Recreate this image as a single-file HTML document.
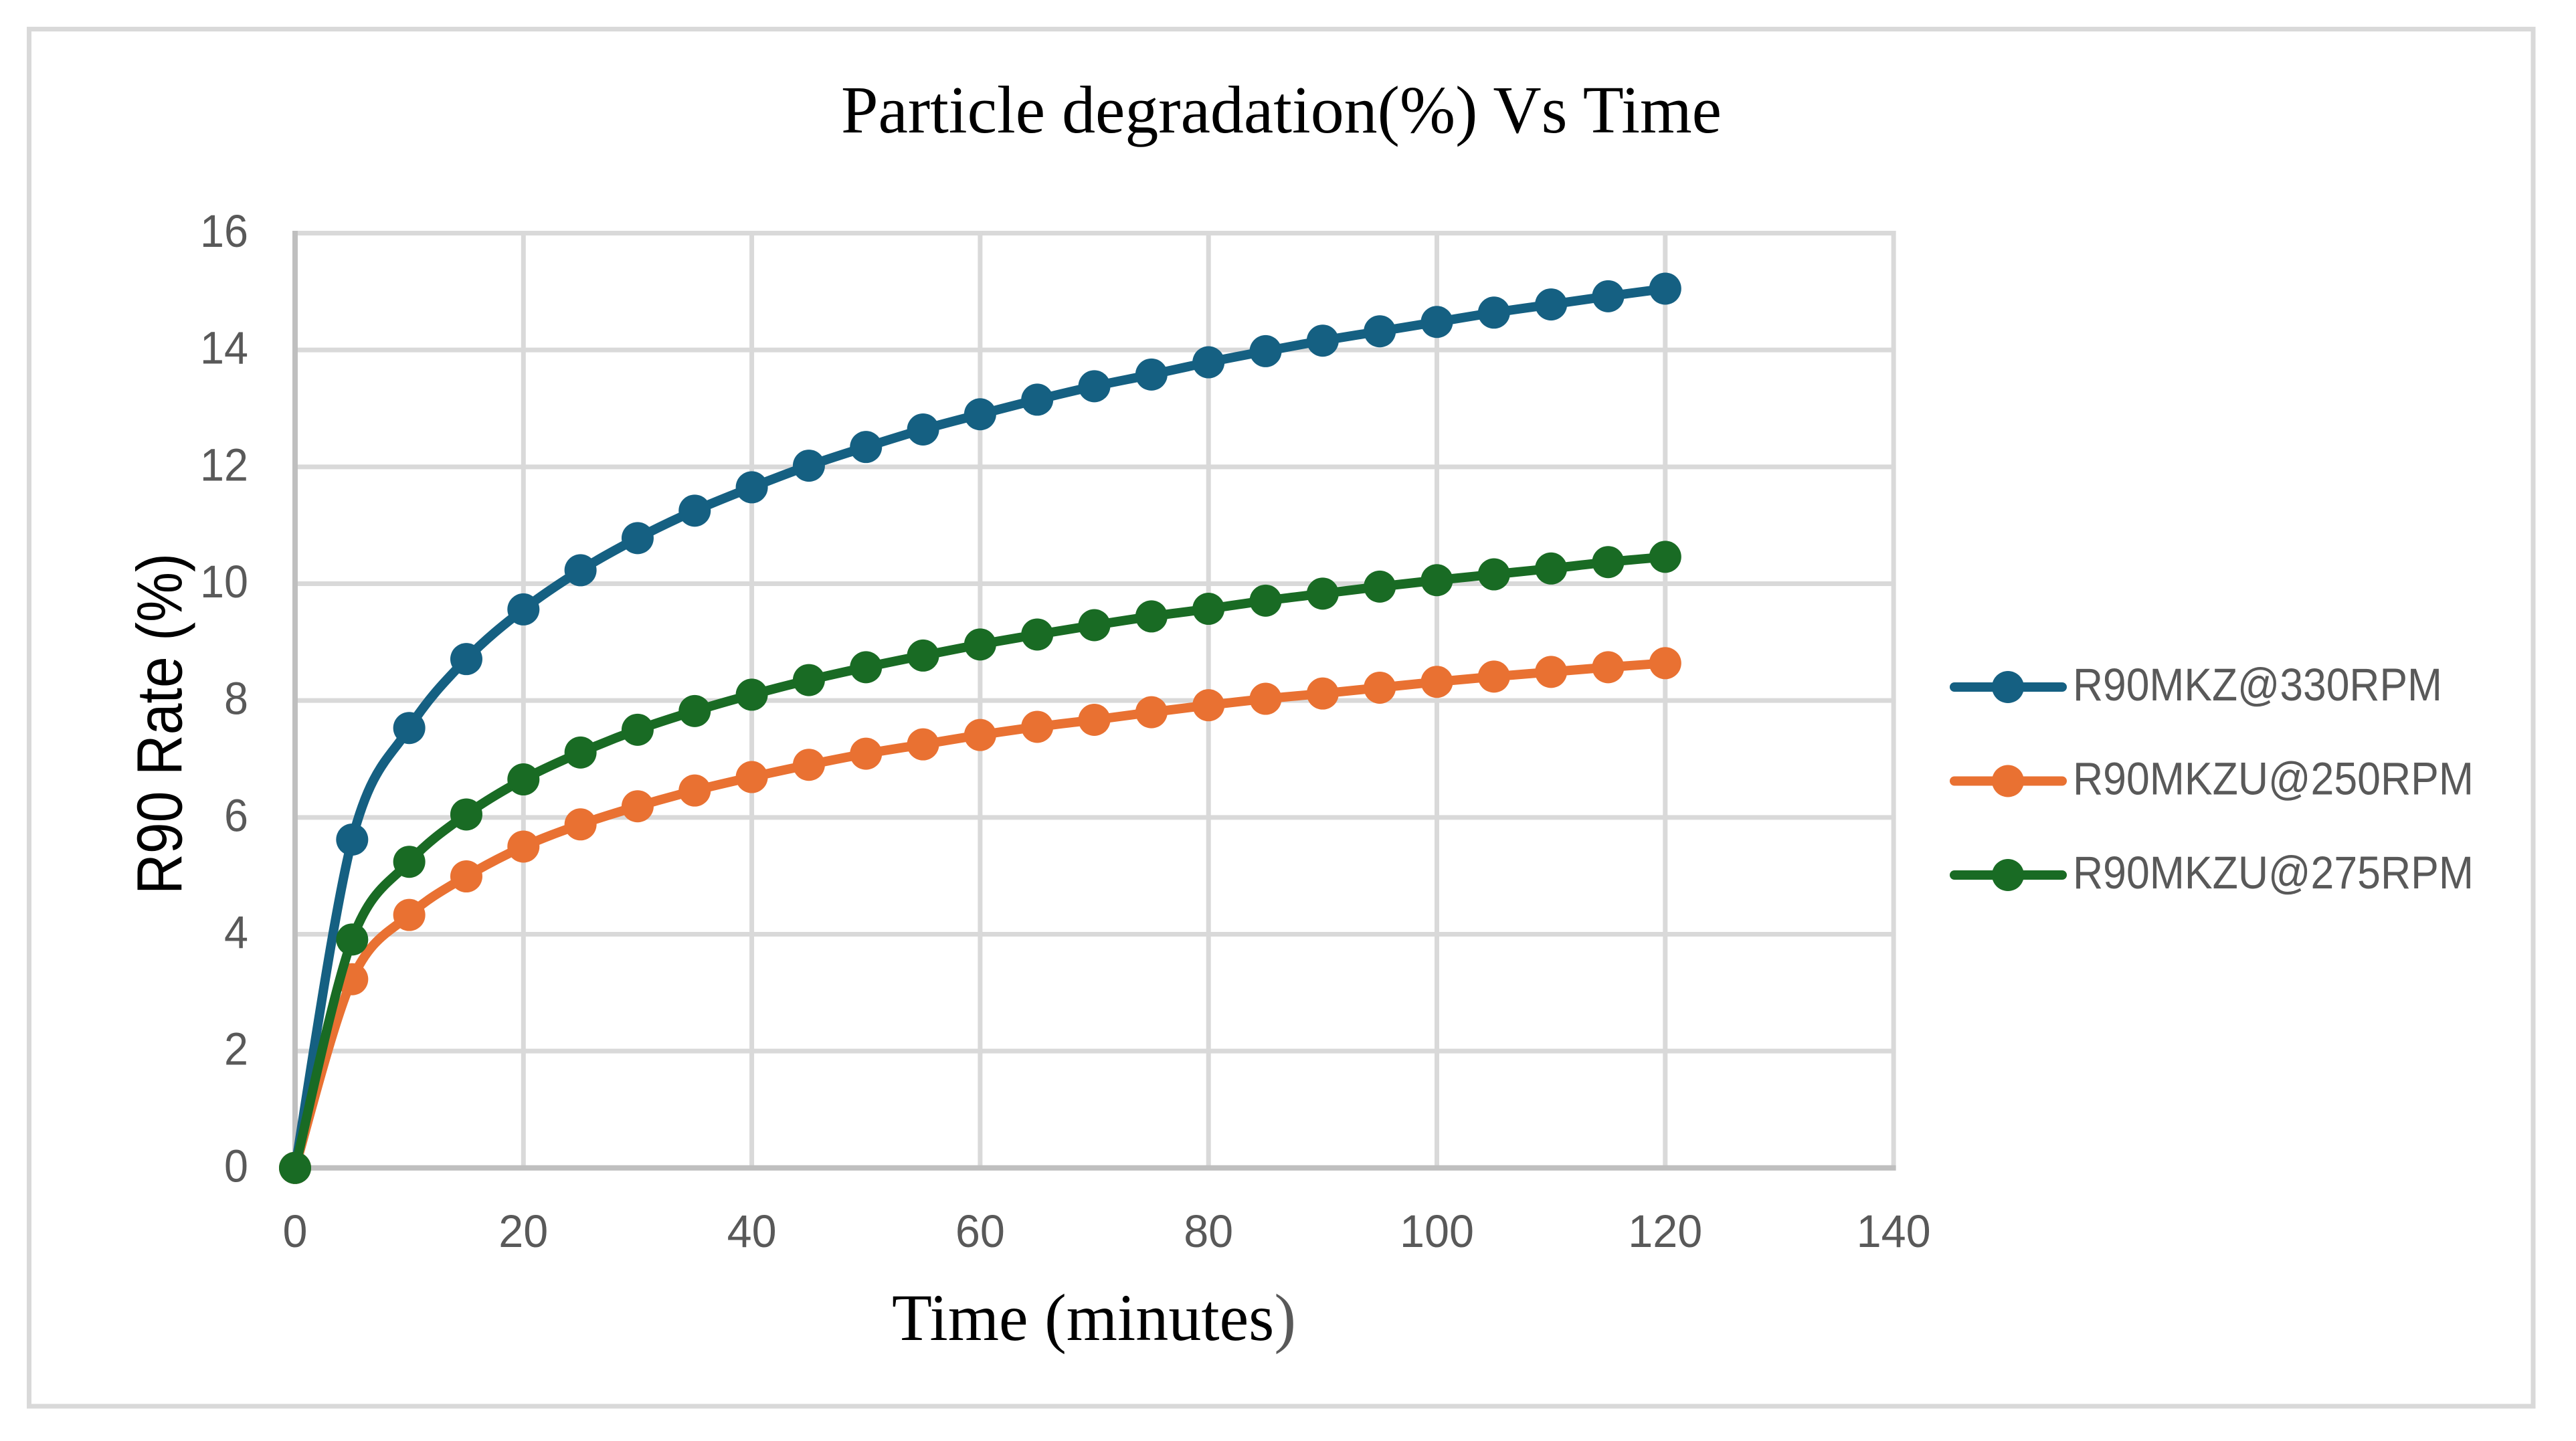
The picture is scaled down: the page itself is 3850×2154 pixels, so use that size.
<!DOCTYPE html>
<html lang="en">
<head>
<meta charset="utf-8">
<title>Particle degradation(%) Vs Time</title>
<style>
  html,body{margin:0;padding:0;background:#fff;}
  svg{display:block;}
  text{font-family:"Liberation Sans",sans-serif;}
  .serif{font-family:"Liberation Serif",serif;}
</style>
</head>
<body>
<svg id="chart" xmlns="http://www.w3.org/2000/svg" width="3850" height="2154" viewBox="0 0 3850 2154">
  <rect x="0" y="0" width="3850" height="2154" fill="#ffffff"/>
  <rect x="43.5" y="43.5" width="3742.5" height="2058.5" fill="none" stroke="#D9D9D9" stroke-width="7"/>
  <text class="serif" x="1257" y="198" font-size="101" fill="#000000" textLength="1316" lengthAdjust="spacingAndGlyphs">Particle degradation(%) Vs Time</text>
  <g id="grid"></g>
  <g id="axes"></g>
  <g id="series"></g>
  <text class="serif" x="1333" y="2003" font-size="100" fill="#000000" textLength="604" lengthAdjust="spacingAndGlyphs">Time (minutes<tspan fill="#595959">)</tspan></text>
  <text x="0" y="0" font-size="96" fill="#000000" textLength="510" lengthAdjust="spacingAndGlyphs" transform="translate(271.4,1337) rotate(-90)">R90 Rate (%)</text>
  <g id="legend"></g>
</svg>
<script>
const times = [0,5,10,15,20,25,30,35,40,45,50,55,60,65,70,75,80,85,90,95,100,105,110,115,120];
const r90mkz330 = [0,5.62,7.53,8.71,9.56,10.23,10.78,11.25,11.65,12.02,12.34,12.64,12.90,13.15,13.38,13.58,13.79,13.98,14.16,14.32,14.48,14.64,14.78,14.92,15.05];
const r90mkzu250 = [0,3.23,4.33,4.99,5.50,5.88,6.19,6.46,6.69,6.90,7.09,7.25,7.41,7.55,7.67,7.80,7.92,8.03,8.12,8.22,8.32,8.41,8.49,8.57,8.64];
const r90mkzu275 = [0,3.91,5.24,6.05,6.65,7.11,7.50,7.82,8.10,8.35,8.57,8.77,8.96,9.13,9.29,9.44,9.57,9.71,9.83,9.95,10.06,10.16,10.26,10.37,10.46];
const xTicks = [0,20,40,60,80,100,120,140];
const yTicks = [0,2,4,6,8,10,12,14,16];
const seriesNames = ['R90MKZ@330RPM','R90MKZU@250RPM','R90MKZU@275RPM'];
const seriesValues = [r90mkz330, r90mkzu250, r90mkzu275];
const seriesColors = ['#156082','#E97132','#196B24'];

const SVGNS = 'http://www.w3.org/2000/svg';
const X0 = 441, XSCALE = 17.065;
const Y0 = 1745.8, YSCALE = 87.33;
function xPos(v){ return X0 + v * XSCALE; }
function yPos(v){ return Y0 - v * YSCALE; }
function make(tag, attrs, parent){
  const el = document.createElementNS(SVGNS, tag);
  for (const k in attrs) el.setAttribute(k, attrs[k]);
  parent.appendChild(el);
  return el;
}
const grid = document.getElementById('grid');
const axes = document.getElementById('axes');
const seriesGroup = document.getElementById('series');
const legend = document.getElementById('legend');
const xMax = xTicks[xTicks.length - 1];
const yMax = yTicks[yTicks.length - 1];

yTicks.forEach(function(t){
  if (t !== 0) {
    const ln = make('line', {x1:xPos(0), x2:xPos(xMax)+3.5, y1:yPos(t), y2:yPos(t), stroke:'#D9D9D9', 'stroke-width':7}, grid);
    
    
  }
  const lab = make('text', {x:371, y:yPos(t)+20.5, 'font-size':69, fill:'#595959', 'text-anchor':'end', textLength:String(t).length*36, lengthAdjust:'spacingAndGlyphs'}, axes);
  lab.textContent = t;
  
  
});
xTicks.forEach(function(t){
  if (t !== 0) {
    const ln = make('line', {x1:xPos(t), x2:xPos(t), y1:yPos(yMax)-3.5, y2:yPos(0), stroke:'#D9D9D9', 'stroke-width':7}, grid);
    
    
  }
  const lab = make('text', {x:xPos(t), y:1864, 'font-size':69, fill:'#595959', 'text-anchor':'middle', textLength:String(t).length*37, lengthAdjust:'spacingAndGlyphs'}, axes);
  lab.textContent = t;
  
  
});
const yAxis = make('line', {x1:xPos(0), x2:xPos(0), y1:yPos(yMax)-3.5, y2:yPos(0)+4, stroke:'#BFBFBF', 'stroke-width':8}, axes);


const xAxis = make('line', {x1:xPos(0)-4, x2:xPos(xMax)+3.5, y1:yPos(0), y2:yPos(0), stroke:'#BFBFBF', 'stroke-width':8}, axes);



function smoothPath(pts){
  let d = 'M' + pts[0][0] + ' ' + pts[0][1];
  for (let i = 0; i < pts.length - 1; i++) {
    const p0 = pts[Math.max(i-1,0)], p1 = pts[i], p2 = pts[i+1], p3 = pts[Math.min(i+2,pts.length-1)];
    const c1x = p1[0] + (p2[0]-p0[0])/6, c1y = p1[1] + (p2[1]-p0[1])/6;
    const c2x = p2[0] - (p3[0]-p1[0])/6, c2y = p2[1] - (p3[1]-p1[1])/6;
    d += 'C' + c1x + ' ' + c1y + ' ' + c2x + ' ' + c2y + ' ' + p2[0] + ' ' + p2[1];
  }
  return d;
}
seriesValues.forEach(function(vals, s){
  const g = make('g', {}, seriesGroup);
  
  
  const pts = vals.map(function(v, i){ return [xPos(times[i]), yPos(v)]; });
  const path = make('path', {d:smoothPath(pts), fill:'none', stroke:seriesColors[s], 'stroke-width':14, 'stroke-linecap':'round', 'stroke-linejoin':'round'}, g);
  
  
  pts.forEach(function(p, i){
    const c = make('circle', {cx:p[0], cy:p[1], r:24, fill:seriesColors[s]}, g);
    
    
  });
});

const legendRows = [1027, 1167.5, 1308];
const legendLengths = [544, 591, 591];
seriesNames.forEach(function(name, s){
  const g = make('g', {}, legend);
  
  
  const ln = make('line', {x1:2921, x2:3082, y1:legendRows[s], y2:legendRows[s], stroke:seriesColors[s], 'stroke-width':14, 'stroke-linecap':'round'}, g);
  
  
  const c = make('circle', {cx:3001, cy:legendRows[s], r:24, fill:seriesColors[s]}, g);
  
  
  const t = make('text', {x:3098, y:legendRows[s]+20, 'font-size':69, fill:'#595959', textLength:legendLengths[s]+8, lengthAdjust:'spacingAndGlyphs'}, g);
  t.textContent = name;
  
  
});
</script>
</body>
</html>
